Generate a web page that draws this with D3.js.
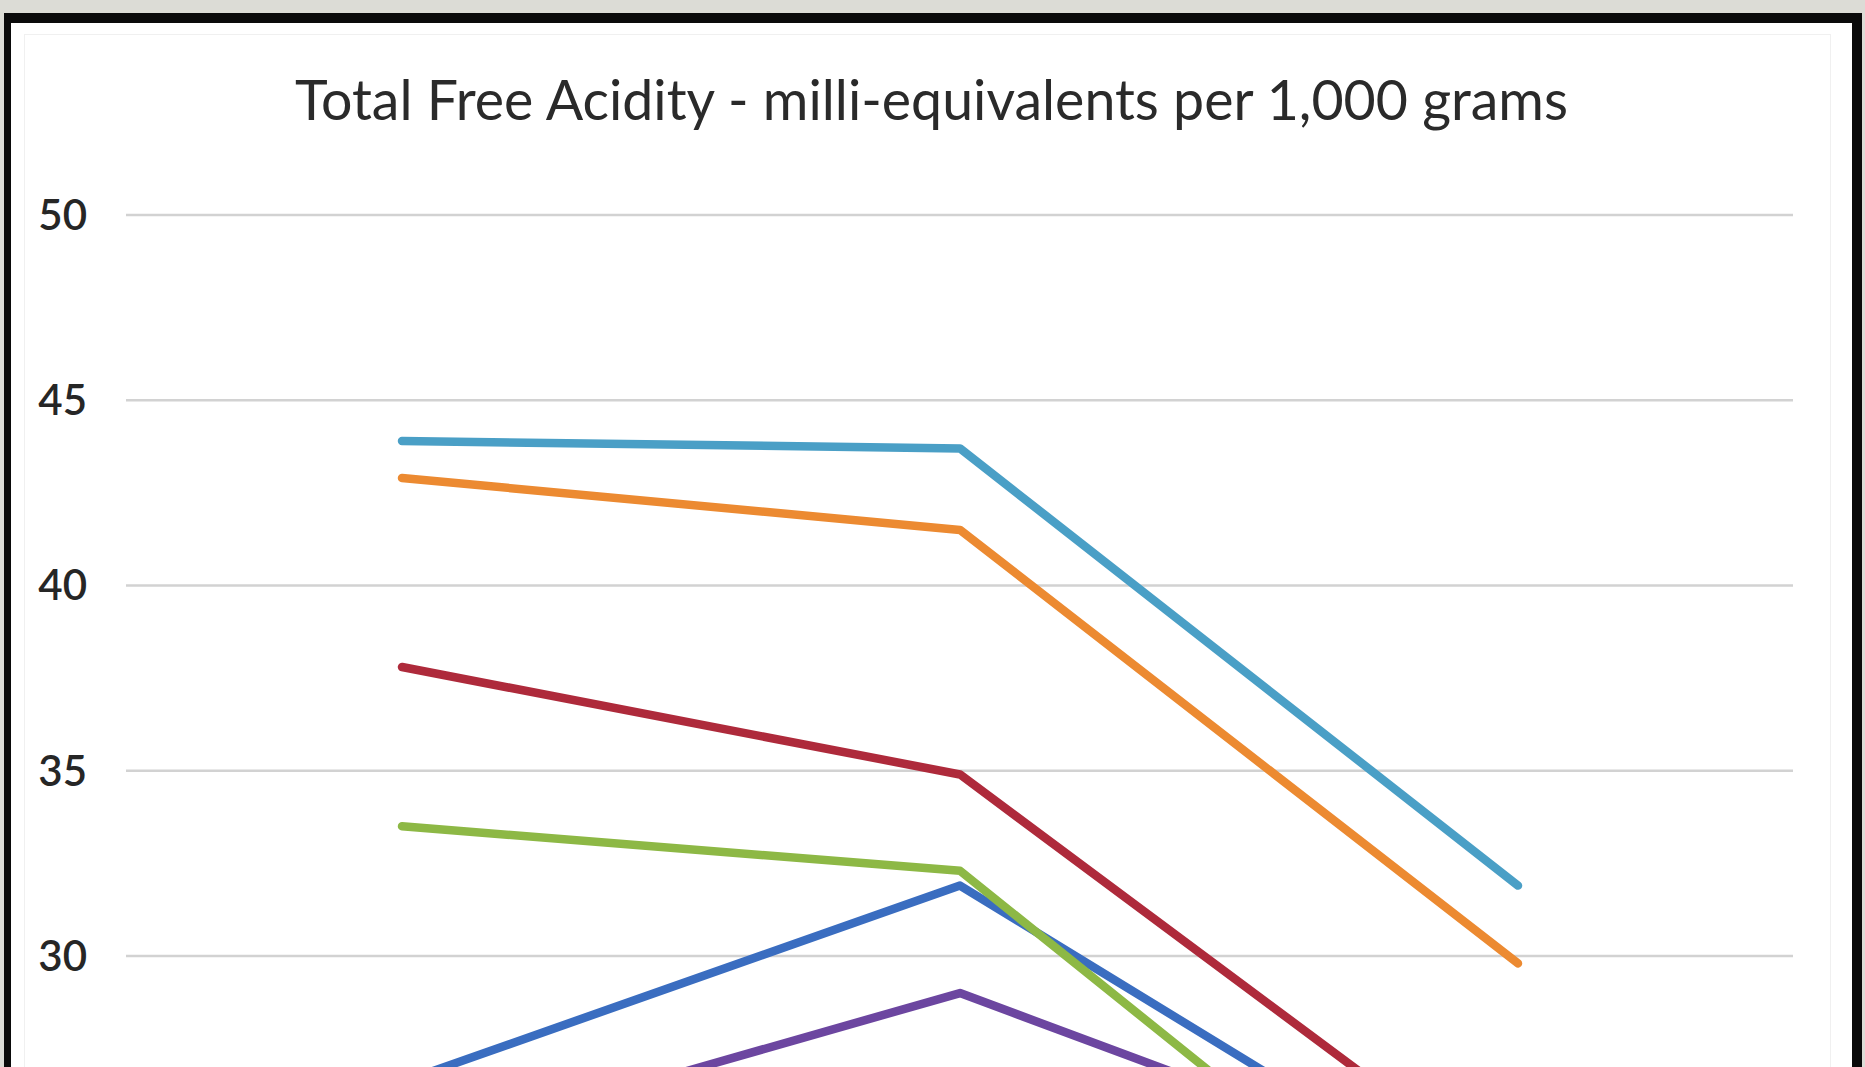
<!DOCTYPE html>
<html>
<head>
<meta charset="utf-8">
<script src="https://cdn.jsdelivr.net/npm/d3@7"></script>
<style>
  html, body { margin: 0; padding: 0; background: #dcdcd6; overflow: hidden; }
  svg { display: block; }
</style>
</head>
<body>
<svg id="chart" width="1865" height="1067"></svg>
<script>
// Chart data
const chartTitle = "Total Free Acidity - milli-equivalents per 1,000 grams";
const categories = ["Test 1", "Test 2", "Test 3"];
const seriesNames = ["Series1", "Series2", "Series3", "Series4", "Series5", "Series6"];
const series1 = [26.6, 31.9, 22.7];
const series2 = [37.8, 34.9, 23.7];
const series3 = [33.5, 32.3, 20.2];
const series4 = [24.7, 29.0, 23.4];
const series5 = [43.9, 43.7, 31.9];
const series6 = [42.9, 41.5, 29.8];
const yTicks = [0, 5, 10, 15, 20, 25, 30, 35, 40, 45, 50];

const seriesValues = [series1, series2, series3, series4, series5, series6];
const seriesColors = ["#3a6dc0", "#ae2a3b", "#8db845", "#6c46a0", "#4a9fc6", "#ec8a31"];

const W = 1865, H = 1067;
const svg = d3.select("#chart");

// Outer frame: black border around a white chart area
svg.append("rect").attr("x", 4).attr("y", 13).attr("width", 1858).attr("height", 1200).attr("fill", "#0a0a0a");
svg.append("rect").attr("x", 11).attr("y", 23).attr("width", 1841).attr("height", 1200).attr("fill", "#ffffff");
svg.append("rect").attr("x", 24.5).attr("y", 34.5).attr("width", 1806).attr("height", 1200)
  .attr("fill", "none").attr("stroke", "#f0f0f0").attr("stroke-width", 1);

// Plot area
const plot = { left: 126, right: 1793, top: 215 };
const y = d3.scaleLinear().domain([0, 50]).range([plot.top + 50 * 37.05, plot.top]);
const x = d3.scaleBand().domain(categories).range([123, 1797]);
const xc = d => x(d) + x.bandwidth() / 2;

// Horizontal gridlines
svg.append("g")
  .selectAll("line")
  .data(yTicks)
  .join("line")
  .attr("x1", plot.left).attr("x2", plot.right)
  .attr("y1", d => y(d)).attr("y2", d => y(d))
  .attr("stroke", "#d2d2d2").attr("stroke-width", 2.5);

// Value axis labels (only those that fit on the canvas)
const shownTicks = yTicks.filter(t => y(t) < H - 30);
const yAxis = d3.axisLeft(y).tickValues(shownTicks).tickSize(0).tickPadding(0).tickFormat(d3.format("d"));
const yg = svg.append("g").attr("transform", "translate(87,0)").call(yAxis);
yg.select(".domain").remove();
yg.selectAll("text")
  .attr("font-family", "Lato, 'Open Sans', sans-serif")
  .attr("font-size", 42)
  .attr("font-weight", 600)
  .attr("fill", "#262626")
  .attr("dy", "0.34em");

// Series lines
const line = d3.line()
  .x((d, i) => xc(categories[i]))
  .y(d => y(d));

svg.append("g")
  .selectAll("path")
  .data(seriesValues)
  .join("path")
  .attr("d", d => line(d))
  .attr("fill", "none")
  .attr("stroke", (d, i) => seriesColors[i])
  .attr("stroke-width", 8.5)
  .attr("stroke-linejoin", "round")
  .attr("stroke-linecap", "round");

// Title
svg.append("text")
  .attr("x", 931.5)
  .attr("y", 120)
  .attr("text-anchor", "middle")
  .attr("font-family", "Lato, 'Open Sans', sans-serif")
  .attr("font-size", 56)
  .attr("fill", "#2a2a2a")
  .attr("textLength", 1273)
  .attr("lengthAdjust", "spacingAndGlyphs")
  .text(chartTitle);
</script>
</body>
</html>
